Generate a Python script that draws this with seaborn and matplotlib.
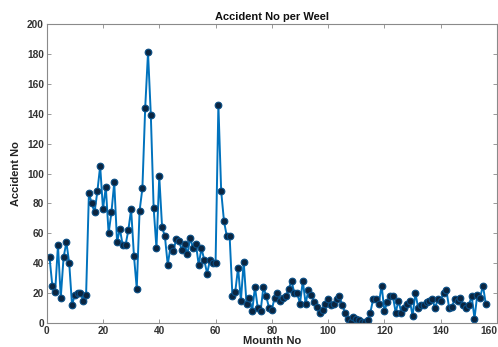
import matplotlib
matplotlib.use("Agg")
import matplotlib.pyplot as plt
import seaborn as sns
import pandas as pd

# Accident counts per week
accidents = [
    44, 25, 21, 52, 17, 44, 54, 40, 12, 19,
    20, 20, 15, 19, 87, 80, 74, 88, 105, 76,
    91, 60, 74, 94, 54, 63, 52, 52, 62, 76,
    45, 23, 75, 90, 144, 181, 139, 77, 50, 98,
    64, 58, 39, 51, 48, 56, 55, 49, 53, 46,
    57, 50, 53, 39, 50, 42, 33, 42, 40, 40,
    146, 88, 68, 58, 58, 18, 21, 37, 15, 41,
    13, 17, 8, 24, 10, 8, 24, 18, 10, 9,
    17, 20, 15, 17, 18, 23, 28, 20, 20, 13,
    28, 13, 22, 19, 14, 11, 7, 9, 13, 16,
    12, 13, 16, 18, 12, 7, 3, 1, 4, 3,
    2, 1, 1, 2, 7, 16, 16, 13, 25, 8,
    14, 18, 18, 7, 15, 7, 10, 13, 15, 5,
    20, 10, 12, 12, 14, 15, 16, 10, 16, 15,
    20, 22, 10, 11, 16, 15, 17, 12, 10, 12,
    18, 3, 19, 17, 25, 13,
]
weeks = list(range(1, len(accidents) + 1))

x_ticks = [0, 20, 40, 60, 80, 100, 120, 140, 160]
y_ticks = [0, 20, 40, 60, 80, 100, 120, 140, 160, 180, 200]

title_text = "Accident No per Weel"
x_label = "Mounth No"
y_label = "Accident No"

df = pd.DataFrame({"week": weeks, "accidents": accidents})

sns.set_style("white")
plt.rcParams["font.family"] = ["Liberation Sans", "DejaVu Sans"]

fig = plt.figure(figsize=(4.98, 3.47), dpi=100)
ax = fig.add_axes([46.7 / 498, (347 - 323) / 347, (497 - 46.7) / 498, (323 - 24) / 347])

sns.lineplot(
    data=df, x="week", y="accidents", ax=ax,
    color="#0072BD", linewidth=1.4,
    marker="o", markersize=4.8,
    markerfacecolor="#0b2540", markeredgecolor="#0a4f86", markeredgewidth=0.8,
)

ax.set_xlim(0, 160)
ax.set_ylim(0, 200)
ax.set_xticks(x_ticks)
ax.set_yticks(y_ticks)
ax.set_xticklabels([str(t) for t in x_ticks], fontsize=7.3, fontweight="bold", color="#333333")
ax.set_yticklabels([str(t) for t in y_ticks], fontsize=7.3, fontweight="bold", color="#333333")
ax.get_xticklabels()[-1].set_horizontalalignment("right")
ax.tick_params(direction="in", length=3, width=0.6, color="#888888", pad=2,
               top=True, right=True, bottom=True, left=True)

for side in ["top", "bottom", "left", "right"]:
    ax.spines[side].set_visible(True)
    ax.spines[side].set_color("#8a8a8a")
    ax.spines[side].set_linewidth(0.8)

ax.set_title(title_text, fontsize=8, fontweight="bold", color="#111111", pad=3)
ax.set_xlabel(x_label, fontsize=8, fontweight="bold", color="#222222")
ax.set_ylabel(y_label, fontsize=8, fontweight="bold", color="#222222")
ax.xaxis.set_label_coords(0.5, -0.042)
ax.yaxis.set_label_coords(-0.058, 0.5)

fig.savefig("out.png", dpi=100)
